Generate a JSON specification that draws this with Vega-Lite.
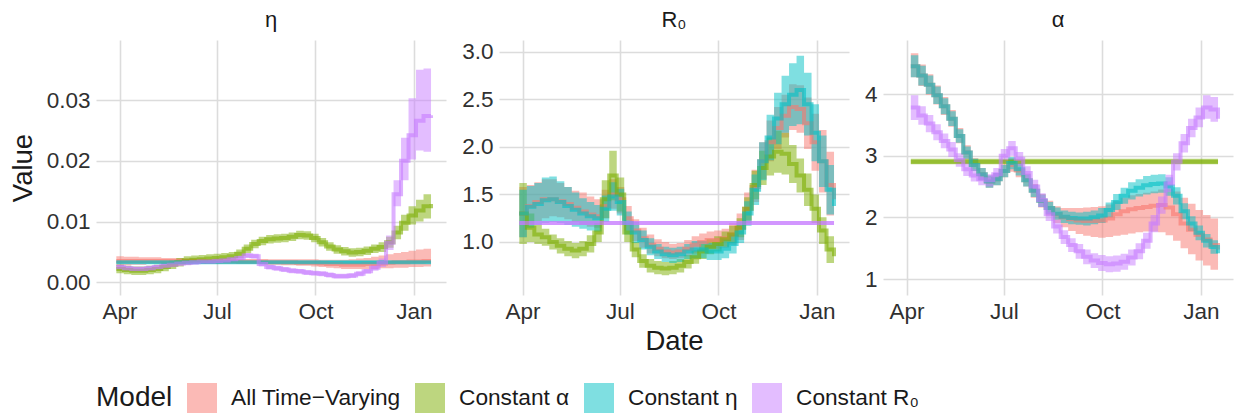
{
"$schema":"https://vega.github.io/schema/vega-lite/v6.json",
"padding":{"left":9,"top":9,"right":4,"bottom":2},
"background":"white",
"config":{
 "font":"Liberation Sans",
 "view":{"stroke":null},
 "axis":{"domain":false,"ticks":false,"grid":true,"gridColor":"#dcdcdc","gridWidth":1.6,"labelFontSize":22.5,"labelColor":"#303030","titleFontSize":27.5,"titleFontWeight":"normal","titleColor":"#1a1a1a","labelPadding":6},
 "title":{"fontSize":22,"fontWeight":"normal","color":"#1a1a1a","offset":8},
 "legend":{"orient":"bottom","offset":28,"direction":"horizontal","titleOrient":"left","titleFontSize":28,"titleFontWeight":"normal","titleColor":"#1a1a1a","labelFontSize":22.7,"labelColor":"#1a1a1a","labelLimit":500,"symbolType":"square","symbolSize":900,"symbolOpacity":0.5,"symbolStrokeWidth":0,"columnPadding":14,"labelOffset":14,"titlePadding":14}
},
"datasets":{"d":[
{"p":"e","m":"A","d":"2020-03-29","v":0.0035,"lo":0.0027,"hi":0.0043},
{"p":"e","m":"A","d":"2020-04-05","v":0.0035,"lo":0.0028,"hi":0.0042},
{"p":"e","m":"A","d":"2020-04-12","v":0.0035,"lo":0.0029,"hi":0.0042},
{"p":"e","m":"A","d":"2020-04-19","v":0.0035,"lo":0.0029,"hi":0.0041},
{"p":"e","m":"A","d":"2020-04-26","v":0.0035,"lo":0.0030,"hi":0.0041},
{"p":"e","m":"A","d":"2020-05-03","v":0.0035,"lo":0.0030,"hi":0.0041},
{"p":"e","m":"A","d":"2020-05-10","v":0.0035,"lo":0.0030,"hi":0.0040},
{"p":"e","m":"A","d":"2020-05-17","v":0.0035,"lo":0.0031,"hi":0.0040},
{"p":"e","m":"A","d":"2020-05-24","v":0.0035,"lo":0.0031,"hi":0.0040},
{"p":"e","m":"A","d":"2020-05-31","v":0.0035,"lo":0.0031,"hi":0.0039},
{"p":"e","m":"A","d":"2020-06-07","v":0.0035,"lo":0.0031,"hi":0.0039},
{"p":"e","m":"A","d":"2020-06-14","v":0.0035,"lo":0.0031,"hi":0.0039},
{"p":"e","m":"A","d":"2020-06-21","v":0.0034,"lo":0.0031,"hi":0.0038},
{"p":"e","m":"A","d":"2020-06-28","v":0.0034,"lo":0.0031,"hi":0.0038},
{"p":"e","m":"A","d":"2020-07-05","v":0.0034,"lo":0.0031,"hi":0.0038},
{"p":"e","m":"A","d":"2020-07-12","v":0.0034,"lo":0.0031,"hi":0.0038},
{"p":"e","m":"A","d":"2020-07-19","v":0.0034,"lo":0.0030,"hi":0.0038},
{"p":"e","m":"A","d":"2020-07-26","v":0.0034,"lo":0.0030,"hi":0.0038},
{"p":"e","m":"A","d":"2020-08-02","v":0.0034,"lo":0.0030,"hi":0.0038},
{"p":"e","m":"A","d":"2020-08-09","v":0.0034,"lo":0.0030,"hi":0.0038},
{"p":"e","m":"A","d":"2020-08-16","v":0.0033,"lo":0.0029,"hi":0.0038},
{"p":"e","m":"A","d":"2020-08-23","v":0.0033,"lo":0.0029,"hi":0.0038},
{"p":"e","m":"A","d":"2020-08-30","v":0.0033,"lo":0.0028,"hi":0.0038},
{"p":"e","m":"A","d":"2020-09-06","v":0.0033,"lo":0.0028,"hi":0.0038},
{"p":"e","m":"A","d":"2020-09-13","v":0.0032,"lo":0.0027,"hi":0.0038},
{"p":"e","m":"A","d":"2020-09-20","v":0.0032,"lo":0.0027,"hi":0.0038},
{"p":"e","m":"A","d":"2020-09-27","v":0.0032,"lo":0.0026,"hi":0.0038},
{"p":"e","m":"A","d":"2020-10-04","v":0.0031,"lo":0.0025,"hi":0.0037},
{"p":"e","m":"A","d":"2020-10-11","v":0.0030,"lo":0.0024,"hi":0.0037},
{"p":"e","m":"A","d":"2020-10-18","v":0.0030,"lo":0.0023,"hi":0.0037},
{"p":"e","m":"A","d":"2020-10-25","v":0.0029,"lo":0.0022,"hi":0.0037},
{"p":"e","m":"A","d":"2020-11-01","v":0.0029,"lo":0.0022,"hi":0.0038},
{"p":"e","m":"A","d":"2020-11-08","v":0.0029,"lo":0.0022,"hi":0.0039},
{"p":"e","m":"A","d":"2020-11-15","v":0.0030,"lo":0.0022,"hi":0.0040},
{"p":"e","m":"A","d":"2020-11-22","v":0.0030,"lo":0.0022,"hi":0.0042},
{"p":"e","m":"A","d":"2020-11-29","v":0.0031,"lo":0.0023,"hi":0.0044},
{"p":"e","m":"A","d":"2020-12-06","v":0.0032,"lo":0.0023,"hi":0.0046},
{"p":"e","m":"A","d":"2020-12-13","v":0.0033,"lo":0.0024,"hi":0.0048},
{"p":"e","m":"A","d":"2020-12-20","v":0.0033,"lo":0.0024,"hi":0.0050},
{"p":"e","m":"A","d":"2020-12-27","v":0.0034,"lo":0.0025,"hi":0.0052},
{"p":"e","m":"A","d":"2021-01-03","v":0.0034,"lo":0.0025,"hi":0.0054},
{"p":"e","m":"A","d":"2021-01-10","v":0.0035,"lo":0.0026,"hi":0.0055},
{"p":"e","m":"A","d":"2021-01-17","v":0.0035,"lo":0.0026,"hi":0.0055},
{"p":"e","m":"B","d":"2020-03-29","v":0.0022,"lo":0.0015,"hi":0.0029},
{"p":"e","m":"B","d":"2020-04-05","v":0.0020,"lo":0.0013,"hi":0.0027},
{"p":"e","m":"B","d":"2020-04-12","v":0.0019,"lo":0.0012,"hi":0.0026},
{"p":"e","m":"B","d":"2020-04-19","v":0.0019,"lo":0.0012,"hi":0.0026},
{"p":"e","m":"B","d":"2020-04-26","v":0.0020,"lo":0.0013,"hi":0.0027},
{"p":"e","m":"B","d":"2020-05-03","v":0.0022,"lo":0.0015,"hi":0.0029},
{"p":"e","m":"B","d":"2020-05-10","v":0.0025,"lo":0.0018,"hi":0.0032},
{"p":"e","m":"B","d":"2020-05-17","v":0.0029,"lo":0.0022,"hi":0.0036},
{"p":"e","m":"B","d":"2020-05-24","v":0.0033,"lo":0.0026,"hi":0.0040},
{"p":"e","m":"B","d":"2020-05-31","v":0.0036,"lo":0.0029,"hi":0.0043},
{"p":"e","m":"B","d":"2020-06-07","v":0.0037,"lo":0.0030,"hi":0.0044},
{"p":"e","m":"B","d":"2020-06-14","v":0.0038,"lo":0.0031,"hi":0.0045},
{"p":"e","m":"B","d":"2020-06-21","v":0.0039,"lo":0.0032,"hi":0.0046},
{"p":"e","m":"B","d":"2020-06-28","v":0.0040,"lo":0.0033,"hi":0.0047},
{"p":"e","m":"B","d":"2020-07-05","v":0.0041,"lo":0.0034,"hi":0.0048},
{"p":"e","m":"B","d":"2020-07-12","v":0.0043,"lo":0.0036,"hi":0.0050},
{"p":"e","m":"B","d":"2020-07-19","v":0.0047,"lo":0.0040,"hi":0.0054},
{"p":"e","m":"B","d":"2020-07-26","v":0.0055,"lo":0.0048,"hi":0.0062},
{"p":"e","m":"B","d":"2020-08-02","v":0.0063,"lo":0.0056,"hi":0.0070},
{"p":"e","m":"B","d":"2020-08-09","v":0.0068,"lo":0.0061,"hi":0.0075},
{"p":"e","m":"B","d":"2020-08-16","v":0.0071,"lo":0.0064,"hi":0.0078},
{"p":"e","m":"B","d":"2020-08-23","v":0.0072,"lo":0.0065,"hi":0.0079},
{"p":"e","m":"B","d":"2020-08-30","v":0.0073,"lo":0.0066,"hi":0.0080},
{"p":"e","m":"B","d":"2020-09-06","v":0.0075,"lo":0.0068,"hi":0.0082},
{"p":"e","m":"B","d":"2020-09-13","v":0.0078,"lo":0.0071,"hi":0.0085},
{"p":"e","m":"B","d":"2020-09-20","v":0.0077,"lo":0.0070,"hi":0.0084},
{"p":"e","m":"B","d":"2020-09-27","v":0.0073,"lo":0.0066,"hi":0.0080},
{"p":"e","m":"B","d":"2020-10-04","v":0.0066,"lo":0.0059,"hi":0.0073},
{"p":"e","m":"B","d":"2020-10-11","v":0.0059,"lo":0.0052,"hi":0.0066},
{"p":"e","m":"B","d":"2020-10-18","v":0.0054,"lo":0.0047,"hi":0.0061},
{"p":"e","m":"B","d":"2020-10-25","v":0.0051,"lo":0.0044,"hi":0.0058},
{"p":"e","m":"B","d":"2020-11-01","v":0.0049,"lo":0.0042,"hi":0.0056},
{"p":"e","m":"B","d":"2020-11-08","v":0.0050,"lo":0.0043,"hi":0.0057},
{"p":"e","m":"B","d":"2020-11-15","v":0.0052,"lo":0.0045,"hi":0.0059},
{"p":"e","m":"B","d":"2020-11-22","v":0.0055,"lo":0.0048,"hi":0.0062},
{"p":"e","m":"B","d":"2020-11-29","v":0.0058,"lo":0.0050,"hi":0.0066},
{"p":"e","m":"B","d":"2020-12-06","v":0.0066,"lo":0.0057,"hi":0.0075},
{"p":"e","m":"B","d":"2020-12-13","v":0.0082,"lo":0.0071,"hi":0.0093},
{"p":"e","m":"B","d":"2020-12-20","v":0.0098,"lo":0.0085,"hi":0.0111},
{"p":"e","m":"B","d":"2020-12-27","v":0.0110,"lo":0.0095,"hi":0.0125},
{"p":"e","m":"B","d":"2021-01-03","v":0.0118,"lo":0.0100,"hi":0.0136},
{"p":"e","m":"B","d":"2021-01-10","v":0.0125,"lo":0.0105,"hi":0.0145},
{"p":"e","m":"B","d":"2021-01-17","v":0.0129,"lo":0.0107,"hi":0.0151},
{"p":"e","m":"C","d":"2020-03-29","v":0.0033,"lo":0.0031,"hi":0.0035},
{"p":"e","m":"C","d":"2021-01-17","v":0.0033,"lo":0.0031,"hi":0.0035},
{"p":"e","m":"D","d":"2020-03-29","v":0.0025,"lo":0.0021,"hi":0.0029},
{"p":"e","m":"D","d":"2020-04-05","v":0.0023,"lo":0.0019,"hi":0.0027},
{"p":"e","m":"D","d":"2020-04-12","v":0.0022,"lo":0.0018,"hi":0.0026},
{"p":"e","m":"D","d":"2020-04-19","v":0.0022,"lo":0.0018,"hi":0.0026},
{"p":"e","m":"D","d":"2020-04-26","v":0.0023,"lo":0.0019,"hi":0.0027},
{"p":"e","m":"D","d":"2020-05-03","v":0.0025,"lo":0.0021,"hi":0.0029},
{"p":"e","m":"D","d":"2020-05-10","v":0.0027,"lo":0.0023,"hi":0.0031},
{"p":"e","m":"D","d":"2020-05-17","v":0.0029,"lo":0.0025,"hi":0.0033},
{"p":"e","m":"D","d":"2020-05-24","v":0.0031,"lo":0.0027,"hi":0.0035},
{"p":"e","m":"D","d":"2020-05-31","v":0.0032,"lo":0.0028,"hi":0.0036},
{"p":"e","m":"D","d":"2020-06-07","v":0.0033,"lo":0.0029,"hi":0.0037},
{"p":"e","m":"D","d":"2020-06-14","v":0.0034,"lo":0.0030,"hi":0.0038},
{"p":"e","m":"D","d":"2020-06-21","v":0.0034,"lo":0.0030,"hi":0.0038},
{"p":"e","m":"D","d":"2020-06-28","v":0.0035,"lo":0.0031,"hi":0.0039},
{"p":"e","m":"D","d":"2020-07-05","v":0.0036,"lo":0.0032,"hi":0.0040},
{"p":"e","m":"D","d":"2020-07-12","v":0.0038,"lo":0.0034,"hi":0.0042},
{"p":"e","m":"D","d":"2020-07-19","v":0.0040,"lo":0.0036,"hi":0.0044},
{"p":"e","m":"D","d":"2020-07-26","v":0.0044,"lo":0.0040,"hi":0.0048},
{"p":"e","m":"D","d":"2020-08-02","v":0.0043,"lo":0.0039,"hi":0.0047},
{"p":"e","m":"D","d":"2020-08-09","v":0.0030,"lo":0.0026,"hi":0.0034},
{"p":"e","m":"D","d":"2020-08-16","v":0.0025,"lo":0.0021,"hi":0.0029},
{"p":"e","m":"D","d":"2020-08-23","v":0.0023,"lo":0.0019,"hi":0.0027},
{"p":"e","m":"D","d":"2020-08-30","v":0.0021,"lo":0.0017,"hi":0.0025},
{"p":"e","m":"D","d":"2020-09-06","v":0.0019,"lo":0.0015,"hi":0.0023},
{"p":"e","m":"D","d":"2020-09-13","v":0.0018,"lo":0.0014,"hi":0.0022},
{"p":"e","m":"D","d":"2020-09-20","v":0.0016,"lo":0.0012,"hi":0.0020},
{"p":"e","m":"D","d":"2020-09-27","v":0.0015,"lo":0.0011,"hi":0.0019},
{"p":"e","m":"D","d":"2020-10-04","v":0.0014,"lo":0.0010,"hi":0.0018},
{"p":"e","m":"D","d":"2020-10-11","v":0.0012,"lo":0.0008,"hi":0.0016},
{"p":"e","m":"D","d":"2020-10-18","v":0.0010,"lo":0.0006,"hi":0.0014},
{"p":"e","m":"D","d":"2020-10-25","v":0.0010,"lo":0.0006,"hi":0.0014},
{"p":"e","m":"D","d":"2020-11-01","v":0.0011,"lo":0.0007,"hi":0.0015},
{"p":"e","m":"D","d":"2020-11-08","v":0.0014,"lo":0.0010,"hi":0.0018},
{"p":"e","m":"D","d":"2020-11-15","v":0.0018,"lo":0.0014,"hi":0.0022},
{"p":"e","m":"D","d":"2020-11-22","v":0.0024,"lo":0.0019,"hi":0.0029},
{"p":"e","m":"D","d":"2020-11-29","v":0.0032,"lo":0.0025,"hi":0.0039},
{"p":"e","m":"D","d":"2020-12-06","v":0.0065,"lo":0.0053,"hi":0.0077},
{"p":"e","m":"D","d":"2020-12-13","v":0.0145,"lo":0.0125,"hi":0.0168},
{"p":"e","m":"D","d":"2020-12-20","v":0.0200,"lo":0.0168,"hi":0.0238},
{"p":"e","m":"D","d":"2020-12-27","v":0.0242,"lo":0.0202,"hi":0.0303},
{"p":"e","m":"D","d":"2021-01-03","v":0.0266,"lo":0.0217,"hi":0.0350},
{"p":"e","m":"D","d":"2021-01-10","v":0.0274,"lo":0.0215,"hi":0.0352},
{"p":"e","m":"D","d":"2021-01-17","v":0.0275,"lo":0.0215,"hi":0.0352},
{"p":"r","m":"A","d":"2020-03-29","v":1.30,"lo":1.05,"hi":1.58},
{"p":"r","m":"A","d":"2020-04-05","v":1.38,"lo":1.18,"hi":1.60},
{"p":"r","m":"A","d":"2020-04-12","v":1.42,"lo":1.22,"hi":1.63},
{"p":"r","m":"A","d":"2020-04-19","v":1.45,"lo":1.25,"hi":1.66},
{"p":"r","m":"A","d":"2020-04-26","v":1.45,"lo":1.27,"hi":1.66},
{"p":"r","m":"A","d":"2020-05-03","v":1.43,"lo":1.26,"hi":1.62},
{"p":"r","m":"A","d":"2020-05-10","v":1.40,"lo":1.24,"hi":1.58},
{"p":"r","m":"A","d":"2020-05-17","v":1.36,"lo":1.21,"hi":1.54},
{"p":"r","m":"A","d":"2020-05-24","v":1.32,"lo":1.18,"hi":1.52},
{"p":"r","m":"A","d":"2020-05-31","v":1.29,"lo":1.16,"hi":1.48},
{"p":"r","m":"A","d":"2020-06-07","v":1.27,"lo":1.15,"hi":1.45},
{"p":"r","m":"A","d":"2020-06-14","v":1.38,"lo":1.25,"hi":1.55},
{"p":"r","m":"A","d":"2020-06-21","v":1.50,"lo":1.35,"hi":1.66},
{"p":"r","m":"A","d":"2020-06-28","v":1.45,"lo":1.30,"hi":1.58},
{"p":"r","m":"A","d":"2020-07-05","v":1.25,"lo":1.12,"hi":1.38},
{"p":"r","m":"A","d":"2020-07-12","v":1.12,"lo":1.01,"hi":1.24},
{"p":"r","m":"A","d":"2020-07-19","v":1.04,"lo":0.94,"hi":1.15},
{"p":"r","m":"A","d":"2020-07-26","v":0.97,"lo":0.88,"hi":1.08},
{"p":"r","m":"A","d":"2020-08-02","v":0.93,"lo":0.85,"hi":1.03},
{"p":"r","m":"A","d":"2020-08-09","v":0.90,"lo":0.83,"hi":1.00},
{"p":"r","m":"A","d":"2020-08-16","v":0.89,"lo":0.82,"hi":0.98},
{"p":"r","m":"A","d":"2020-08-23","v":0.90,"lo":0.83,"hi":0.99},
{"p":"r","m":"A","d":"2020-08-30","v":0.93,"lo":0.85,"hi":1.02},
{"p":"r","m":"A","d":"2020-09-06","v":0.97,"lo":0.88,"hi":1.06},
{"p":"r","m":"A","d":"2020-09-13","v":1.00,"lo":0.91,"hi":1.09},
{"p":"r","m":"A","d":"2020-09-20","v":1.02,"lo":0.93,"hi":1.11},
{"p":"r","m":"A","d":"2020-09-27","v":1.02,"lo":0.93,"hi":1.12},
{"p":"r","m":"A","d":"2020-10-04","v":1.04,"lo":0.94,"hi":1.14},
{"p":"r","m":"A","d":"2020-10-11","v":1.08,"lo":0.97,"hi":1.20},
{"p":"r","m":"A","d":"2020-10-18","v":1.15,"lo":1.02,"hi":1.30},
{"p":"r","m":"A","d":"2020-10-25","v":1.35,"lo":1.20,"hi":1.52},
{"p":"r","m":"A","d":"2020-11-01","v":1.58,"lo":1.42,"hi":1.76},
{"p":"r","m":"A","d":"2020-11-08","v":1.85,"lo":1.66,"hi":2.05},
{"p":"r","m":"A","d":"2020-11-15","v":2.05,"lo":1.85,"hi":2.28},
{"p":"r","m":"A","d":"2020-11-22","v":2.20,"lo":1.98,"hi":2.42},
{"p":"r","m":"A","d":"2020-11-29","v":2.33,"lo":2.10,"hi":2.55},
{"p":"r","m":"A","d":"2020-12-06","v":2.42,"lo":2.18,"hi":2.66},
{"p":"r","m":"A","d":"2020-12-13","v":2.40,"lo":2.15,"hi":2.65},
{"p":"r","m":"A","d":"2020-12-20","v":2.25,"lo":1.98,"hi":2.52},
{"p":"r","m":"A","d":"2020-12-27","v":2.05,"lo":1.75,"hi":2.35},
{"p":"r","m":"A","d":"2021-01-03","v":1.85,"lo":1.52,"hi":2.18},
{"p":"r","m":"A","d":"2021-01-10","v":1.60,"lo":1.28,"hi":1.95},
{"p":"r","m":"A","d":"2021-01-17","v":1.45,"lo":1.15,"hi":1.80},
{"p":"r","m":"B","d":"2020-03-29","v":1.30,"lo":0.98,"hi":1.62},
{"p":"r","m":"B","d":"2020-04-05","v":1.15,"lo":1.00,"hi":1.30},
{"p":"r","m":"B","d":"2020-04-12","v":1.08,"lo":0.98,"hi":1.18},
{"p":"r","m":"B","d":"2020-04-19","v":1.05,"lo":0.96,"hi":1.14},
{"p":"r","m":"B","d":"2020-04-26","v":1.00,"lo":0.92,"hi":1.08},
{"p":"r","m":"B","d":"2020-05-03","v":0.96,"lo":0.88,"hi":1.04},
{"p":"r","m":"B","d":"2020-05-10","v":0.93,"lo":0.85,"hi":1.01},
{"p":"r","m":"B","d":"2020-05-17","v":0.91,"lo":0.83,"hi":0.99},
{"p":"r","m":"B","d":"2020-05-24","v":0.93,"lo":0.85,"hi":1.01},
{"p":"r","m":"B","d":"2020-05-31","v":0.98,"lo":0.89,"hi":1.07},
{"p":"r","m":"B","d":"2020-06-07","v":1.10,"lo":1.00,"hi":1.20},
{"p":"r","m":"B","d":"2020-06-14","v":1.45,"lo":1.25,"hi":1.65},
{"p":"r","m":"B","d":"2020-06-21","v":1.70,"lo":1.44,"hi":1.96},
{"p":"r","m":"B","d":"2020-06-28","v":1.50,"lo":1.32,"hi":1.68},
{"p":"r","m":"B","d":"2020-07-05","v":1.10,"lo":1.00,"hi":1.20},
{"p":"r","m":"B","d":"2020-07-12","v":0.92,"lo":0.84,"hi":1.00},
{"p":"r","m":"B","d":"2020-07-19","v":0.80,"lo":0.73,"hi":0.87},
{"p":"r","m":"B","d":"2020-07-26","v":0.75,"lo":0.68,"hi":0.82},
{"p":"r","m":"B","d":"2020-08-02","v":0.73,"lo":0.66,"hi":0.80},
{"p":"r","m":"B","d":"2020-08-09","v":0.72,"lo":0.65,"hi":0.79},
{"p":"r","m":"B","d":"2020-08-16","v":0.73,"lo":0.66,"hi":0.80},
{"p":"r","m":"B","d":"2020-08-23","v":0.75,"lo":0.68,"hi":0.82},
{"p":"r","m":"B","d":"2020-08-30","v":0.79,"lo":0.72,"hi":0.86},
{"p":"r","m":"B","d":"2020-09-06","v":0.84,"lo":0.77,"hi":0.91},
{"p":"r","m":"B","d":"2020-09-13","v":0.90,"lo":0.82,"hi":0.98},
{"p":"r","m":"B","d":"2020-09-20","v":0.95,"lo":0.87,"hi":1.03},
{"p":"r","m":"B","d":"2020-09-27","v":0.98,"lo":0.90,"hi":1.06},
{"p":"r","m":"B","d":"2020-10-04","v":1.03,"lo":0.95,"hi":1.11},
{"p":"r","m":"B","d":"2020-10-11","v":1.08,"lo":0.99,"hi":1.17},
{"p":"r","m":"B","d":"2020-10-18","v":1.15,"lo":1.05,"hi":1.25},
{"p":"r","m":"B","d":"2020-10-25","v":1.35,"lo":1.23,"hi":1.47},
{"p":"r","m":"B","d":"2020-11-01","v":1.60,"lo":1.45,"hi":1.75},
{"p":"r","m":"B","d":"2020-11-08","v":1.78,"lo":1.60,"hi":1.96},
{"p":"r","m":"B","d":"2020-11-15","v":1.90,"lo":1.70,"hi":2.10},
{"p":"r","m":"B","d":"2020-11-22","v":1.95,"lo":1.73,"hi":2.17},
{"p":"r","m":"B","d":"2020-11-29","v":1.93,"lo":1.71,"hi":2.15},
{"p":"r","m":"B","d":"2020-12-06","v":1.82,"lo":1.62,"hi":2.02},
{"p":"r","m":"B","d":"2020-12-13","v":1.70,"lo":1.52,"hi":1.88},
{"p":"r","m":"B","d":"2020-12-20","v":1.55,"lo":1.38,"hi":1.72},
{"p":"r","m":"B","d":"2020-12-27","v":1.35,"lo":1.20,"hi":1.50},
{"p":"r","m":"B","d":"2021-01-03","v":1.12,"lo":0.98,"hi":1.26},
{"p":"r","m":"B","d":"2021-01-10","v":0.92,"lo":0.78,"hi":1.06},
{"p":"r","m":"B","d":"2021-01-17","v":0.85,"lo":0.70,"hi":1.00},
{"p":"r","m":"C","d":"2020-03-29","v":1.30,"lo":1.05,"hi":1.55},
{"p":"r","m":"C","d":"2020-04-05","v":1.37,"lo":1.15,"hi":1.59},
{"p":"r","m":"C","d":"2020-04-12","v":1.40,"lo":1.18,"hi":1.62},
{"p":"r","m":"C","d":"2020-04-19","v":1.44,"lo":1.20,"hi":1.68},
{"p":"r","m":"C","d":"2020-04-26","v":1.45,"lo":1.21,"hi":1.69},
{"p":"r","m":"C","d":"2020-05-03","v":1.42,"lo":1.20,"hi":1.64},
{"p":"r","m":"C","d":"2020-05-10","v":1.38,"lo":1.18,"hi":1.58},
{"p":"r","m":"C","d":"2020-05-17","v":1.34,"lo":1.16,"hi":1.52},
{"p":"r","m":"C","d":"2020-05-24","v":1.30,"lo":1.14,"hi":1.46},
{"p":"r","m":"C","d":"2020-05-31","v":1.27,"lo":1.12,"hi":1.42},
{"p":"r","m":"C","d":"2020-06-07","v":1.25,"lo":1.11,"hi":1.39},
{"p":"r","m":"C","d":"2020-06-14","v":1.35,"lo":1.21,"hi":1.49},
{"p":"r","m":"C","d":"2020-06-21","v":1.48,"lo":1.33,"hi":1.63},
{"p":"r","m":"C","d":"2020-06-28","v":1.42,"lo":1.28,"hi":1.56},
{"p":"r","m":"C","d":"2020-07-05","v":1.20,"lo":1.08,"hi":1.32},
{"p":"r","m":"C","d":"2020-07-12","v":1.10,"lo":0.99,"hi":1.21},
{"p":"r","m":"C","d":"2020-07-19","v":1.02,"lo":0.92,"hi":1.12},
{"p":"r","m":"C","d":"2020-07-26","v":0.95,"lo":0.86,"hi":1.04},
{"p":"r","m":"C","d":"2020-08-02","v":0.90,"lo":0.82,"hi":0.98},
{"p":"r","m":"C","d":"2020-08-09","v":0.87,"lo":0.79,"hi":0.95},
{"p":"r","m":"C","d":"2020-08-16","v":0.86,"lo":0.78,"hi":0.94},
{"p":"r","m":"C","d":"2020-08-23","v":0.87,"lo":0.79,"hi":0.95},
{"p":"r","m":"C","d":"2020-08-30","v":0.90,"lo":0.82,"hi":0.98},
{"p":"r","m":"C","d":"2020-09-06","v":0.92,"lo":0.83,"hi":1.01},
{"p":"r","m":"C","d":"2020-09-13","v":0.92,"lo":0.83,"hi":1.01},
{"p":"r","m":"C","d":"2020-09-20","v":0.90,"lo":0.81,"hi":0.99},
{"p":"r","m":"C","d":"2020-09-27","v":0.90,"lo":0.81,"hi":0.99},
{"p":"r","m":"C","d":"2020-10-04","v":0.93,"lo":0.83,"hi":1.03},
{"p":"r","m":"C","d":"2020-10-11","v":0.98,"lo":0.88,"hi":1.08},
{"p":"r","m":"C","d":"2020-10-18","v":1.10,"lo":0.99,"hi":1.21},
{"p":"r","m":"C","d":"2020-10-25","v":1.30,"lo":1.17,"hi":1.43},
{"p":"r","m":"C","d":"2020-11-01","v":1.55,"lo":1.39,"hi":1.71},
{"p":"r","m":"C","d":"2020-11-08","v":1.85,"lo":1.65,"hi":2.05},
{"p":"r","m":"C","d":"2020-11-15","v":2.10,"lo":1.86,"hi":2.34},
{"p":"r","m":"C","d":"2020-11-22","v":2.30,"lo":2.03,"hi":2.57},
{"p":"r","m":"C","d":"2020-11-29","v":2.45,"lo":2.15,"hi":2.75},
{"p":"r","m":"C","d":"2020-12-06","v":2.55,"lo":2.22,"hi":2.88},
{"p":"r","m":"C","d":"2020-12-13","v":2.60,"lo":2.24,"hi":2.96},
{"p":"r","m":"C","d":"2020-12-20","v":2.45,"lo":2.12,"hi":2.78},
{"p":"r","m":"C","d":"2020-12-27","v":2.15,"lo":1.85,"hi":2.45},
{"p":"r","m":"C","d":"2021-01-03","v":1.85,"lo":1.58,"hi":2.12},
{"p":"r","m":"C","d":"2021-01-10","v":1.55,"lo":1.29,"hi":1.81},
{"p":"r","m":"C","d":"2021-01-17","v":1.38,"lo":1.12,"hi":1.64},
{"p":"r","m":"D","d":"2020-03-29","v":1.20,"lo":1.18,"hi":1.22},
{"p":"r","m":"D","d":"2021-01-17","v":1.20,"lo":1.18,"hi":1.22},
{"p":"a","m":"A","d":"2020-04-05","v":4.45,"lo":4.27,"hi":4.66},
{"p":"a","m":"A","d":"2020-04-12","v":4.30,"lo":4.13,"hi":4.48},
{"p":"a","m":"A","d":"2020-04-19","v":4.15,"lo":3.99,"hi":4.32},
{"p":"a","m":"A","d":"2020-04-26","v":3.98,"lo":3.83,"hi":4.14},
{"p":"a","m":"A","d":"2020-05-03","v":3.80,"lo":3.66,"hi":3.95},
{"p":"a","m":"A","d":"2020-05-10","v":3.60,"lo":3.47,"hi":3.74},
{"p":"a","m":"A","d":"2020-05-17","v":3.32,"lo":3.20,"hi":3.45},
{"p":"a","m":"A","d":"2020-05-24","v":3.05,"lo":2.94,"hi":3.17},
{"p":"a","m":"A","d":"2020-05-31","v":2.85,"lo":2.75,"hi":2.96},
{"p":"a","m":"A","d":"2020-06-07","v":2.70,"lo":2.60,"hi":2.80},
{"p":"a","m":"A","d":"2020-06-14","v":2.58,"lo":2.48,"hi":2.68},
{"p":"a","m":"A","d":"2020-06-21","v":2.62,"lo":2.52,"hi":2.72},
{"p":"a","m":"A","d":"2020-06-28","v":2.75,"lo":2.65,"hi":2.86},
{"p":"a","m":"A","d":"2020-07-05","v":2.85,"lo":2.74,"hi":2.96},
{"p":"a","m":"A","d":"2020-07-12","v":2.76,"lo":2.65,"hi":2.87},
{"p":"a","m":"A","d":"2020-07-19","v":2.60,"lo":2.50,"hi":2.71},
{"p":"a","m":"A","d":"2020-07-26","v":2.43,"lo":2.32,"hi":2.54},
{"p":"a","m":"A","d":"2020-08-02","v":2.27,"lo":2.16,"hi":2.38},
{"p":"a","m":"A","d":"2020-08-09","v":2.15,"lo":2.03,"hi":2.27},
{"p":"a","m":"A","d":"2020-08-16","v":2.05,"lo":1.91,"hi":2.18},
{"p":"a","m":"A","d":"2020-08-23","v":2.00,"lo":1.84,"hi":2.15},
{"p":"a","m":"A","d":"2020-08-30","v":1.97,"lo":1.78,"hi":2.15},
{"p":"a","m":"A","d":"2020-09-06","v":1.95,"lo":1.73,"hi":2.15},
{"p":"a","m":"A","d":"2020-09-13","v":1.94,"lo":1.70,"hi":2.16},
{"p":"a","m":"A","d":"2020-09-20","v":1.94,"lo":1.68,"hi":2.17},
{"p":"a","m":"A","d":"2020-09-27","v":1.95,"lo":1.67,"hi":2.18},
{"p":"a","m":"A","d":"2020-10-04","v":1.98,"lo":1.68,"hi":2.21},
{"p":"a","m":"A","d":"2020-10-11","v":2.05,"lo":1.70,"hi":2.26},
{"p":"a","m":"A","d":"2020-10-18","v":2.10,"lo":1.72,"hi":2.32},
{"p":"a","m":"A","d":"2020-10-25","v":2.13,"lo":1.74,"hi":2.36},
{"p":"a","m":"A","d":"2020-11-01","v":2.15,"lo":1.76,"hi":2.38},
{"p":"a","m":"A","d":"2020-11-08","v":2.17,"lo":1.77,"hi":2.40},
{"p":"a","m":"A","d":"2020-11-15","v":2.19,"lo":1.77,"hi":2.42},
{"p":"a","m":"A","d":"2020-11-22","v":2.20,"lo":1.76,"hi":2.45},
{"p":"a","m":"A","d":"2020-11-29","v":2.16,"lo":1.71,"hi":2.46},
{"p":"a","m":"A","d":"2020-12-06","v":2.05,"lo":1.62,"hi":2.42},
{"p":"a","m":"A","d":"2020-12-13","v":1.90,"lo":1.50,"hi":2.32},
{"p":"a","m":"A","d":"2020-12-20","v":1.80,"lo":1.40,"hi":2.22},
{"p":"a","m":"A","d":"2020-12-27","v":1.72,"lo":1.30,"hi":2.12},
{"p":"a","m":"A","d":"2021-01-03","v":1.64,"lo":1.22,"hi":2.04},
{"p":"a","m":"A","d":"2021-01-10","v":1.55,"lo":1.15,"hi":1.98},
{"p":"a","m":"A","d":"2021-01-17","v":1.48,"lo":1.10,"hi":1.95},
{"p":"a","m":"B","d":"2020-04-05","v":2.90,"lo":2.86,"hi":2.95},
{"p":"a","m":"B","d":"2021-01-17","v":2.90,"lo":2.86,"hi":2.95},
{"p":"a","m":"C","d":"2020-04-05","v":4.45,"lo":4.27,"hi":4.63},
{"p":"a","m":"C","d":"2020-04-12","v":4.30,"lo":4.14,"hi":4.46},
{"p":"a","m":"C","d":"2020-04-19","v":4.15,"lo":4.00,"hi":4.30},
{"p":"a","m":"C","d":"2020-04-26","v":3.98,"lo":3.84,"hi":4.12},
{"p":"a","m":"C","d":"2020-05-03","v":3.80,"lo":3.67,"hi":3.93},
{"p":"a","m":"C","d":"2020-05-10","v":3.60,"lo":3.48,"hi":3.72},
{"p":"a","m":"C","d":"2020-05-17","v":3.32,"lo":3.21,"hi":3.43},
{"p":"a","m":"C","d":"2020-05-24","v":3.05,"lo":2.95,"hi":3.15},
{"p":"a","m":"C","d":"2020-05-31","v":2.85,"lo":2.75,"hi":2.95},
{"p":"a","m":"C","d":"2020-06-07","v":2.70,"lo":2.60,"hi":2.80},
{"p":"a","m":"C","d":"2020-06-14","v":2.58,"lo":2.48,"hi":2.68},
{"p":"a","m":"C","d":"2020-06-21","v":2.62,"lo":2.52,"hi":2.72},
{"p":"a","m":"C","d":"2020-06-28","v":2.75,"lo":2.65,"hi":2.85},
{"p":"a","m":"C","d":"2020-07-05","v":2.88,"lo":2.78,"hi":2.98},
{"p":"a","m":"C","d":"2020-07-12","v":2.78,"lo":2.68,"hi":2.88},
{"p":"a","m":"C","d":"2020-07-19","v":2.60,"lo":2.50,"hi":2.70},
{"p":"a","m":"C","d":"2020-07-26","v":2.43,"lo":2.33,"hi":2.53},
{"p":"a","m":"C","d":"2020-08-02","v":2.27,"lo":2.17,"hi":2.37},
{"p":"a","m":"C","d":"2020-08-09","v":2.15,"lo":2.05,"hi":2.25},
{"p":"a","m":"C","d":"2020-08-16","v":2.06,"lo":1.96,"hi":2.16},
{"p":"a","m":"C","d":"2020-08-23","v":2.01,"lo":1.91,"hi":2.11},
{"p":"a","m":"C","d":"2020-08-30","v":1.99,"lo":1.89,"hi":2.09},
{"p":"a","m":"C","d":"2020-09-06","v":1.98,"lo":1.88,"hi":2.08},
{"p":"a","m":"C","d":"2020-09-13","v":1.98,"lo":1.87,"hi":2.09},
{"p":"a","m":"C","d":"2020-09-20","v":2.00,"lo":1.89,"hi":2.11},
{"p":"a","m":"C","d":"2020-09-27","v":2.03,"lo":1.91,"hi":2.15},
{"p":"a","m":"C","d":"2020-10-04","v":2.12,"lo":2.00,"hi":2.24},
{"p":"a","m":"C","d":"2020-10-11","v":2.25,"lo":2.12,"hi":2.38},
{"p":"a","m":"C","d":"2020-10-18","v":2.35,"lo":2.22,"hi":2.48},
{"p":"a","m":"C","d":"2020-10-25","v":2.43,"lo":2.29,"hi":2.57},
{"p":"a","m":"C","d":"2020-11-01","v":2.48,"lo":2.34,"hi":2.62},
{"p":"a","m":"C","d":"2020-11-08","v":2.52,"lo":2.37,"hi":2.67},
{"p":"a","m":"C","d":"2020-11-15","v":2.54,"lo":2.39,"hi":2.69},
{"p":"a","m":"C","d":"2020-11-22","v":2.55,"lo":2.40,"hi":2.70},
{"p":"a","m":"C","d":"2020-11-29","v":2.50,"lo":2.35,"hi":2.65},
{"p":"a","m":"C","d":"2020-12-06","v":2.35,"lo":2.21,"hi":2.49},
{"p":"a","m":"C","d":"2020-12-13","v":2.10,"lo":1.97,"hi":2.23},
{"p":"a","m":"C","d":"2020-12-20","v":1.90,"lo":1.78,"hi":2.02},
{"p":"a","m":"C","d":"2020-12-27","v":1.75,"lo":1.63,"hi":1.87},
{"p":"a","m":"C","d":"2021-01-03","v":1.62,"lo":1.51,"hi":1.73},
{"p":"a","m":"C","d":"2021-01-10","v":1.52,"lo":1.41,"hi":1.63},
{"p":"a","m":"C","d":"2021-01-17","v":1.42,"lo":1.31,"hi":1.53},
{"p":"a","m":"D","d":"2020-04-05","v":3.78,"lo":3.58,"hi":3.98},
{"p":"a","m":"D","d":"2020-04-12","v":3.65,"lo":3.50,"hi":3.80},
{"p":"a","m":"D","d":"2020-04-19","v":3.52,"lo":3.38,"hi":3.66},
{"p":"a","m":"D","d":"2020-04-26","v":3.38,"lo":3.25,"hi":3.51},
{"p":"a","m":"D","d":"2020-05-03","v":3.24,"lo":3.12,"hi":3.36},
{"p":"a","m":"D","d":"2020-05-10","v":3.10,"lo":2.98,"hi":3.22},
{"p":"a","m":"D","d":"2020-05-17","v":2.93,"lo":2.82,"hi":3.04},
{"p":"a","m":"D","d":"2020-05-24","v":2.78,"lo":2.67,"hi":2.89},
{"p":"a","m":"D","d":"2020-05-31","v":2.68,"lo":2.58,"hi":2.78},
{"p":"a","m":"D","d":"2020-06-07","v":2.62,"lo":2.52,"hi":2.72},
{"p":"a","m":"D","d":"2020-06-14","v":2.60,"lo":2.50,"hi":2.70},
{"p":"a","m":"D","d":"2020-06-21","v":2.70,"lo":2.60,"hi":2.80},
{"p":"a","m":"D","d":"2020-06-28","v":3.00,"lo":2.89,"hi":3.11},
{"p":"a","m":"D","d":"2020-07-05","v":3.12,"lo":3.00,"hi":3.24},
{"p":"a","m":"D","d":"2020-07-12","v":2.95,"lo":2.84,"hi":3.06},
{"p":"a","m":"D","d":"2020-07-19","v":2.72,"lo":2.61,"hi":2.83},
{"p":"a","m":"D","d":"2020-07-26","v":2.50,"lo":2.39,"hi":2.61},
{"p":"a","m":"D","d":"2020-08-02","v":2.28,"lo":2.17,"hi":2.39},
{"p":"a","m":"D","d":"2020-08-09","v":2.05,"lo":1.94,"hi":2.16},
{"p":"a","m":"D","d":"2020-08-16","v":1.85,"lo":1.74,"hi":1.96},
{"p":"a","m":"D","d":"2020-08-23","v":1.68,"lo":1.57,"hi":1.79},
{"p":"a","m":"D","d":"2020-08-30","v":1.55,"lo":1.44,"hi":1.66},
{"p":"a","m":"D","d":"2020-09-06","v":1.45,"lo":1.33,"hi":1.57},
{"p":"a","m":"D","d":"2020-09-13","v":1.36,"lo":1.24,"hi":1.48},
{"p":"a","m":"D","d":"2020-09-20","v":1.30,"lo":1.18,"hi":1.42},
{"p":"a","m":"D","d":"2020-09-27","v":1.26,"lo":1.13,"hi":1.39},
{"p":"a","m":"D","d":"2020-10-04","v":1.24,"lo":1.11,"hi":1.37},
{"p":"a","m":"D","d":"2020-10-11","v":1.25,"lo":1.12,"hi":1.38},
{"p":"a","m":"D","d":"2020-10-18","v":1.28,"lo":1.15,"hi":1.41},
{"p":"a","m":"D","d":"2020-10-25","v":1.35,"lo":1.22,"hi":1.48},
{"p":"a","m":"D","d":"2020-11-01","v":1.45,"lo":1.32,"hi":1.58},
{"p":"a","m":"D","d":"2020-11-08","v":1.62,"lo":1.49,"hi":1.75},
{"p":"a","m":"D","d":"2020-11-15","v":1.90,"lo":1.76,"hi":2.04},
{"p":"a","m":"D","d":"2020-11-22","v":2.20,"lo":2.06,"hi":2.34},
{"p":"a","m":"D","d":"2020-11-29","v":2.55,"lo":2.41,"hi":2.69},
{"p":"a","m":"D","d":"2020-12-06","v":2.90,"lo":2.76,"hi":3.04},
{"p":"a","m":"D","d":"2020-12-13","v":3.20,"lo":3.05,"hi":3.35},
{"p":"a","m":"D","d":"2020-12-20","v":3.45,"lo":3.30,"hi":3.60},
{"p":"a","m":"D","d":"2020-12-27","v":3.62,"lo":3.46,"hi":3.78},
{"p":"a","m":"D","d":"2021-01-03","v":3.78,"lo":3.60,"hi":3.98},
{"p":"a","m":"D","d":"2021-01-10","v":3.75,"lo":3.55,"hi":3.95},
{"p":"a","m":"D","d":"2021-01-17","v":3.60,"lo":3.40,"hi":3.80}
]},
"data":{"name":"d"},
"spacing":15,
"resolve":{"scale":{"x":"independent","y":"independent","color":"shared"}},
"hconcat":[
{"title":"η","width":350,"height":255,
 "transform":[{"filter":"datum.p === 'e'"}],
 "encoding":{
  "x":{"field":"d","type":"temporal","scale":{"type":"utc","domain":[{"year":2020,"month":3,"date":10,"utc":true},{"year":2021,"month":1,"date":31,"utc":true}]},"axis":{"title":null,"labelExpr":"utcFormat(datum.value, '%b')","labelPadding":5,"values":[{"year":2020,"month":4,"date":1,"utc":true},{"year":2020,"month":7,"date":1,"utc":true},{"year":2020,"month":10,"date":1,"utc":true},{"year":2021,"month":1,"date":1,"utc":true}]}},
  "color":{"field":"m","type":"nominal","scale":{"domain":["A","B","C","D"],"range":["#F8766D","#7CAE00","#00BFC4","#C77CFF"]},"legend":{"title":"Model","labelExpr":"datum.label == 'A' ? 'All Time−Varying' : datum.label == 'B' ? 'Constant α' : datum.label == 'C' ? 'Constant η' : 'Constant R₀'"}}
 },
 "layer":[
  {"mark":{"type":"area","interpolate":"step-after","opacity":0.5},
   "encoding":{"y":{"field":"lo","type":"quantitative","scale":{"domain":[-0.0021,0.0399],"nice":false,"zero":false},"axis":{"title":"Value","values":[0,0.01,0.02,0.03],"format":".2f","titlePadding":9}},"y2":{"field":"hi"}}},
  {"mark":{"type":"line","interpolate":"step-after","opacity":0.6,"strokeWidth":4},
   "encoding":{"y":{"field":"v","type":"quantitative","axis":{"title":"Value","values":[0,0.01,0.02,0.03],"format":".2f","titlePadding":9}}}}
 ]},
{"title":"R₀","width":350,"height":255,
 "transform":[{"filter":"datum.p === 'r'"}],
 "encoding":{
  "x":{"field":"d","type":"temporal","scale":{"type":"utc","domain":[{"year":2020,"month":3,"date":10,"utc":true},{"year":2021,"month":1,"date":31,"utc":true}]},"axis":{"title":"Date","titlePadding":5,"labelExpr":"utcFormat(datum.value, '%b')","labelPadding":5,"values":[{"year":2020,"month":4,"date":1,"utc":true},{"year":2020,"month":7,"date":1,"utc":true},{"year":2020,"month":10,"date":1,"utc":true},{"year":2021,"month":1,"date":1,"utc":true}]}},
  "color":{"field":"m","type":"nominal","scale":{"domain":["A","B","C","D"],"range":["#F8766D","#7CAE00","#00BFC4","#C77CFF"]},"legend":{"title":"Model","labelExpr":"datum.label == 'A' ? 'All Time−Varying' : datum.label == 'B' ? 'Constant α' : datum.label == 'C' ? 'Constant η' : 'Constant R₀'"}}
 },
 "layer":[
  {"mark":{"type":"area","interpolate":"step-after","opacity":0.5},
   "encoding":{"y":{"field":"lo","type":"quantitative","scale":{"domain":[0.442,3.126],"nice":false,"zero":false},"axis":{"title":null,"values":[1,1.5,2,2.5,3],"format":".1f"}},"y2":{"field":"hi"}}},
  {"mark":{"type":"line","interpolate":"step-after","opacity":0.6,"strokeWidth":4},
   "encoding":{"y":{"field":"v","type":"quantitative","axis":{"title":null,"values":[1,1.5,2,2.5,3],"format":".1f"}}}}
 ]},
{"title":"α","width":350,"height":255,
 "transform":[{"filter":"datum.p === 'a'"}],
 "encoding":{
  "x":{"field":"d","type":"temporal","scale":{"type":"utc","domain":[{"year":2020,"month":3,"date":10,"utc":true},{"year":2021,"month":1,"date":31,"utc":true}]},"axis":{"title":null,"labelExpr":"utcFormat(datum.value, '%b')","labelPadding":5,"values":[{"year":2020,"month":4,"date":1,"utc":true},{"year":2020,"month":7,"date":1,"utc":true},{"year":2020,"month":10,"date":1,"utc":true},{"year":2021,"month":1,"date":1,"utc":true}]}},
  "color":{"field":"m","type":"nominal","scale":{"domain":["A","B","C","D"],"range":["#F8766D","#7CAE00","#00BFC4","#C77CFF"]},"legend":{"title":"Model","labelExpr":"datum.label == 'A' ? 'All Time−Varying' : datum.label == 'B' ? 'Constant α' : datum.label == 'C' ? 'Constant η' : 'Constant R₀'"}}
 },
 "layer":[
  {"mark":{"type":"area","interpolate":"step-after","opacity":0.5},
   "encoding":{"y":{"field":"lo","type":"quantitative","scale":{"domain":[0.741,4.876],"nice":false,"zero":false},"axis":{"title":null,"values":[1,2,3,4],"format":"d"}},"y2":{"field":"hi"}}},
  {"mark":{"type":"line","interpolate":"step-after","opacity":0.6,"strokeWidth":4},
   "encoding":{"y":{"field":"v","type":"quantitative","axis":{"title":null,"values":[1,2,3,4],"format":"d"}}}}
 ]}
]
}
